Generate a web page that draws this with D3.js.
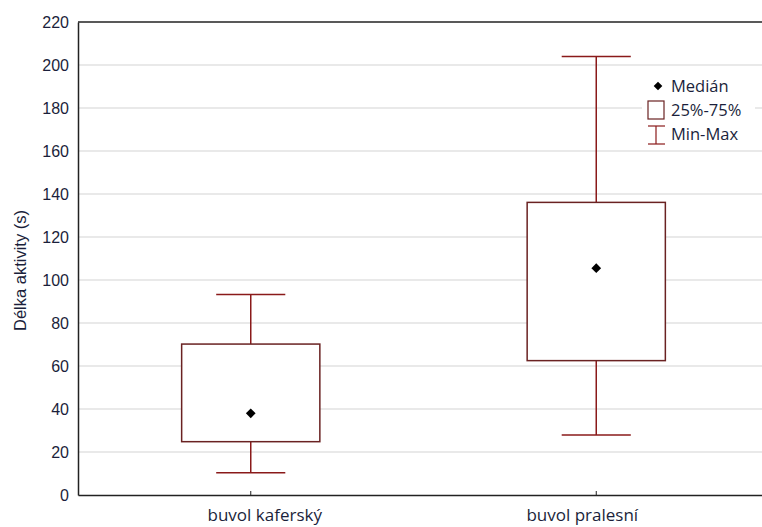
<!DOCTYPE html>
<html>
<head>
<meta charset="utf-8">
<script src="https://cdn.jsdelivr.net/npm/d3@7"></script>
<style>
  html, body { margin: 0; padding: 0; background: #fff; }
  svg { display: block; }
</style>
</head>
<body>
<svg id="chart" width="762" height="527"></svg>
<script>
const categories = ["buvol kaferský", "buvol pralesní"];
const medians = [38, 105.5];
const q1 = [24.8, 62.5];
const q3 = [70.2, 136.1];
const mins = [10.4, 27.9];
const maxs = [93.3, 203.9];
const yTicks = [0, 20, 40, 60, 80, 100, 120, 140, 160, 180, 200, 220];

(function () {
const svg = d3.select("#chart");
const pLeft = 78, pTop = 22, pBottom = 495, pRight = 769;

const x = d3.scaleBand().domain(categories).range([pLeft, pRight]).paddingInner(0).paddingOuter(0);
const y = d3.scaleLinear().domain([0, 220]).range([pBottom, pTop]);

const boxW = x.bandwidth() * 0.4;
const capW = x.bandwidth() * 0.2;
const cx = c => x(c) + x.bandwidth() / 2;

svg.append("g").selectAll("line")
  .data(yTicks.filter(t => t > 0 && t < 220))
  .join("line")
  .attr("x1", pLeft).attr("x2", 762)
  .attr("y1", d => y(d)).attr("y2", d => y(d))
  .attr("stroke", "#e2e2e2").attr("stroke-width", 1.5);

const data = categories.map((c, i) => ({c, med: medians[i], lo: q1[i], hi: q3[i], mn: mins[i], mx: maxs[i]}));
const whiskColor = "#8a1a1a";
const boxColor = "#6a2222";

const g = svg.append("g");
data.forEach(d => {
  const X = cx(d.c);
  g.append("line").attr("x1", X).attr("x2", X).attr("y1", y(d.hi)).attr("y2", y(d.mx))
    .attr("stroke", whiskColor).attr("stroke-width", 1.5);
  g.append("line").attr("x1", X).attr("x2", X).attr("y1", y(d.lo)).attr("y2", y(d.mn))
    .attr("stroke", whiskColor).attr("stroke-width", 1.5);
  g.append("line").attr("x1", X - capW/2).attr("x2", X + capW/2).attr("y1", y(d.mx)).attr("y2", y(d.mx))
    .attr("stroke", whiskColor).attr("stroke-width", 1.5);
  g.append("line").attr("x1", X - capW/2).attr("x2", X + capW/2).attr("y1", y(d.mn)).attr("y2", y(d.mn))
    .attr("stroke", whiskColor).attr("stroke-width", 1.5);
  g.append("rect").attr("x", X - boxW/2).attr("width", boxW)
    .attr("y", y(d.hi)).attr("height", y(d.lo) - y(d.hi))
    .attr("fill", "#fff").attr("stroke", boxColor).attr("stroke-width", 1.5);
  g.append("path").attr("d", d3.symbol(d3.symbolDiamond2, 60)())
    .attr("transform", `translate(${X},${y(d.med)})`)
    .attr("fill", "#000");
});

const axisColor = "#222";
svg.append("line").attr("x1", pLeft).attr("x2", 762).attr("y1", pTop).attr("y2", pTop)
  .attr("stroke", axisColor).attr("stroke-width", 1.5);

const yAxis = svg.append("g").attr("transform", `translate(${pLeft},0)`)
  .call(d3.axisLeft(y).tickValues(yTicks).tickSize(0).tickPadding(9));
yAxis.select(".domain").attr("stroke", axisColor).attr("stroke-width", 1.5);
yAxis.selectAll("text").attr("font-family", "Liberation Sans, Arial, sans-serif")
  .attr("font-size", 16).attr("fill", "#1b1f3b");

const xAxis = svg.append("g").attr("transform", `translate(0,${pBottom})`)
  .call(d3.axisBottom(x).tickSize(-4).tickPadding(14).tickSizeOuter(0));
xAxis.select(".domain").attr("stroke", axisColor).attr("stroke-width", 1.5);
xAxis.selectAll(".tick line").attr("stroke", axisColor).attr("stroke-width", 1);
xAxis.selectAll("text").attr("font-family", "Open Sans, sans-serif")
  .attr("font-size", 17).attr("fill", "#1b1f3b")
  .attr("dx", (d, i) => i === 0 ? 14 : -14);

svg.append("text")
  .attr("transform", `translate(26,${(pTop + pBottom)/2 + 12}) rotate(-90)`)
  .attr("text-anchor", "middle")
  .attr("font-family", "Liberation Sans, Arial, sans-serif")
  .attr("font-size", 16.5).attr("fill", "#1b1f3b")
  .text("Délka aktivity (s)");

const lg = svg.append("g");
lg.append("rect").attr("x", 642).attr("y", 70).attr("width", 113).attr("height", 78).attr("fill", "#fff");
lg.append("path").attr("d", d3.symbol(d3.symbolDiamond2, 48)()).attr("transform", "translate(658,86)").attr("fill", "#000");
lg.append("text").attr("x", 671).attr("y", 92).text("Medián");
lg.append("rect").attr("x", 648).attr("y", 101).attr("width", 16).attr("height", 18)
  .attr("fill", "#fff").attr("stroke", boxColor).attr("stroke-width", 1.2);
lg.append("text").attr("x", 671).attr("y", 116).text("25%-75%");
lg.append("line").attr("x1", 656).attr("x2", 656).attr("y1", 126).attr("y2", 144).attr("stroke", whiskColor).attr("stroke-width", 1.2);
lg.append("line").attr("x1", 648).attr("x2", 665).attr("y1", 126).attr("y2", 126).attr("stroke", whiskColor).attr("stroke-width", 1.2);
lg.append("line").attr("x1", 648).attr("x2", 665).attr("y1", 144).attr("y2", 144).attr("stroke", whiskColor).attr("stroke-width", 1.2);
lg.append("text").attr("x", 671).attr("y", 140).text("Min-Max");
lg.selectAll("text").attr("font-family", "Open Sans, sans-serif").attr("font-size", 16.5).attr("fill", "#1b1f3b");
})();
</script>
</body>
</html>
